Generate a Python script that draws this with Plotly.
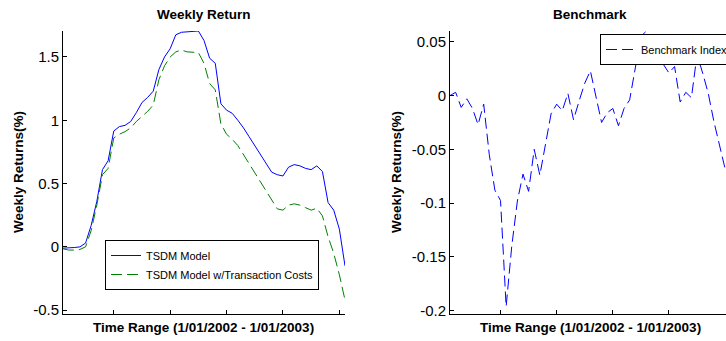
import plotly.graph_objects as go

W, H = 726, 341

weeks = list(range(1, 52))

tsdm_model = [-0.01, -0.01, -0.005, 0.0, 0.03, 0.17, 0.36, 0.61, 0.68, 0.915,
              0.95, 0.96, 0.99, 1.06, 1.14, 1.18, 1.23, 1.40, 1.50, 1.565,
              1.675, 1.695, 1.70, 1.705, 1.705, 1.63, 1.49, 1.45, 1.13, 1.08,
              1.055, 1.00, 0.94, 0.87, 0.80, 0.73, 0.67, 0.59, 0.57, 0.56,
              0.63, 0.65, 0.64, 0.62, 0.61, 0.64, 0.595, 0.35, 0.29, 0.14,
              -0.15]

tsdm_costs = [-0.015, -0.025, -0.025, -0.02, 0.0, 0.13, 0.33, 0.57, 0.62, 0.86,
              0.89, 0.91, 0.94, 0.99, 1.03, 1.07, 1.12, 1.32, 1.43, 1.50,
              1.54, 1.555, 1.54, 1.535, 1.535, 1.45, 1.29, 1.24, 0.97, 0.89,
              0.85, 0.80, 0.73, 0.66, 0.59, 0.52, 0.44, 0.37, 0.30, 0.29,
              0.33, 0.34, 0.33, 0.31, 0.29, 0.305, 0.245, 0.08, -0.05, -0.22,
              -0.42]

benchmark = [0.0, 0.003, -0.011, -0.003, -0.012, -0.027, -0.008, -0.055, -0.088, -0.0975,
             -0.196, -0.14, -0.098, -0.073, -0.089, -0.05, -0.074, -0.046, -0.017, -0.008,
             -0.014, 0.002, -0.0225, -0.005, 0.0115, 0.023, -0.002, -0.025, -0.016, -0.012,
             -0.028, -0.012, -0.004, 0.026, 0.055, 0.060, 0.048, 0.040, 0.029, 0.021,
             0.027, -0.006, 0.003, -0.002, 0.038, 0.021, 0.002, -0.024, -0.045, -0.068,
             -0.08]

left_yticks = [-0.5, 0, 0.5, 1, 1.5]
left_yticklabels = ["-0.5", "0", "0.5", "1", "1.5"]
right_yticks = [-0.2, -0.15, -0.1, -0.05, 0, 0.05]
right_yticklabels = ["-0.2", "-0.15", "-0.1", "-0.05", "0", "0.05"]
xticks = [10, 20, 30, 40, 50]

FONT = "Arial, Liberation Sans, sans-serif"

fig = go.Figure()
fig.add_trace(go.Scatter(x=weeks, y=tsdm_model, mode="lines", name="TSDM Model",
                         line=dict(color="#0000FF", width=1), xaxis="x", yaxis="y",
                         legend="legend"))
fig.add_trace(go.Scatter(x=weeks, y=tsdm_costs, mode="lines",
                         name="TSDM Model w/Transaction Costs",
                         line=dict(color="#008000", width=1, dash="11px,5px"),
                         xaxis="x", yaxis="y", legend="legend"))
fig.add_trace(go.Scatter(x=weeks, y=benchmark, mode="lines", name="Benchmark Index",
                         line=dict(color="#0000FF", width=1, dash="11px,5px"),
                         xaxis="x2", yaxis="y2", legend="legend2"))

def px_x(p):
    return p / W

def px_y(p):
    return (H - p) / H

axis_common = dict(showgrid=False, zeroline=False, showline=True, linecolor="black",
                   linewidth=1, ticks="inside", ticklen=4, tickcolor="black",
                   tickwidth=1, mirror=False)

fig.update_layout(
    width=W, height=H,
    margin=dict(l=0, r=0, t=0, b=0, autoexpand=False),
    paper_bgcolor="white", plot_bgcolor="white",
    font=dict(family=FONT, color="black"),
    xaxis=dict(domain=[px_x(63), px_x(345)], range=[1, 51], tickvals=xticks,
               showticklabels=False, anchor="y", **axis_common),
    yaxis=dict(domain=[px_y(314), px_y(31)], range=[-0.53, 1.705],
               tickvals=left_yticks, ticktext=left_yticklabels,
               tickfont=dict(size=15), anchor="x", **axis_common),
    xaxis2=dict(domain=[px_x(450), 1.0], range=[1, 50.16], tickvals=xticks,
                showticklabels=False, anchor="y2", **axis_common),
    yaxis2=dict(domain=[px_y(314), px_y(31)], range=[-0.203, 0.06],
                tickvals=right_yticks, ticktext=right_yticklabels,
                tickfont=dict(size=15), anchor="x2", **axis_common),
    legend=dict(x=px_x(105), y=px_y(240), xanchor="left", yanchor="top",
                bgcolor="white", bordercolor="black", borderwidth=1,
                font=dict(size=11), tracegroupgap=0, itemwidth=30),
    legend2=dict(x=px_x(600), y=px_y(34), xanchor="left", yanchor="top",
                 bgcolor="white", bordercolor="black", borderwidth=1,
                 font=dict(size=11), itemwidth=30),
    showlegend=True,
)

LBL = 13.5
annots = [
    dict(text="<b>Weekly Return</b>", x=px_x(204), y=px_y(15), angle=0),
    dict(text="<b>Benchmark</b>", x=px_x(590), y=px_y(15), angle=0),
    dict(text="<b>Time Range (1/01/2002 - 1/01/2003)</b>", x=px_x(203), y=px_y(327), angle=0),
    dict(text="<b>Time Range (1/01/2002 - 1/01/2003)</b>", x=px_x(590), y=px_y(327), angle=0),
    dict(text="<b>Weekly Returns(%)</b>", x=px_x(18), y=px_y(172), angle=-90),
    dict(text="<b>Weekly Returns(%)</b>", x=px_x(396), y=px_y(172), angle=-90),
]
for a in annots:
    fig.add_annotation(text=a["text"], x=a["x"], y=a["y"], xref="paper", yref="paper",
                       xanchor="center", yanchor="middle", showarrow=False,
                       textangle=a["angle"], font=dict(size=LBL, family=FONT))

fig.write_html("out.html",
               config={"displayModeBar": False},
               post_script="document.body.style.margin='0px';document.body.style.overflow='hidden';")
